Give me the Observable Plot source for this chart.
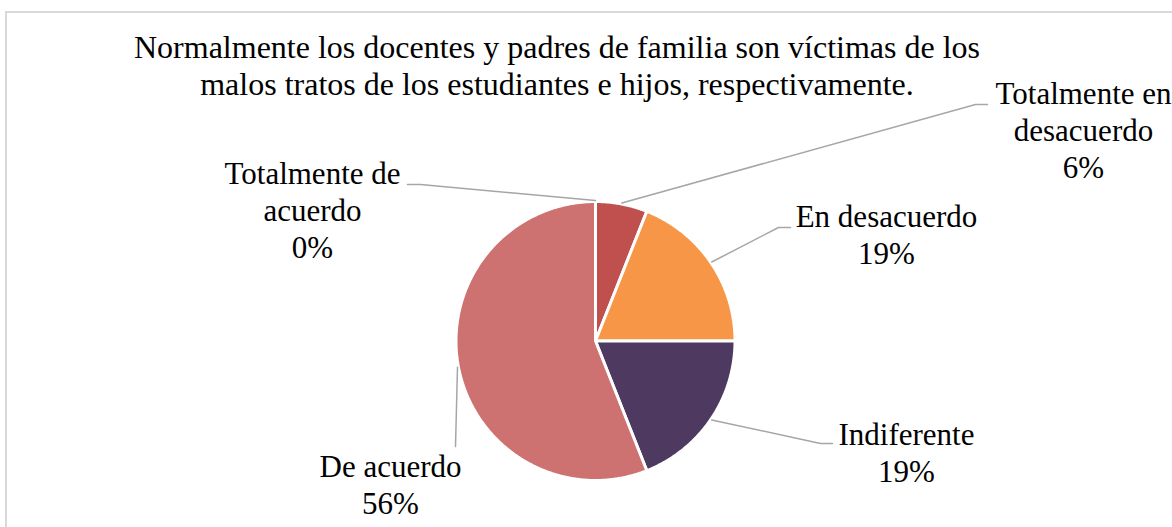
<!DOCTYPE html>
<html>
<head>
<meta charset="utf-8">
<script src="https://cdn.jsdelivr.net/npm/d3@7"></script>
<script src="https://cdn.jsdelivr.net/npm/@observablehq/plot@0.6"></script>
<style>
  body { margin: 0; background: #fff; }
  #wrap { position: relative; width: 1172px; height: 527px; overflow: hidden; font-family: "Liberation Serif", "Times New Roman", serif; }
  #chart { position: absolute; left: 0; top: 0; }
  #frame { position: absolute; left: 5px; top: 11px; width: 2000px; height: 1000px; border-top: 2px solid #d9d9d9; border-left: 2px solid #d9d9d9; }
  #title { position: absolute; left: 0; top: 29px; width: 1114px; text-align: center; font-size: 32px; line-height: 37px; color: #000; }
</style>
</head>
<body>
<div id="wrap">
  <div id="chart"></div>
  <div id="frame"></div>
  <div id="title">Normalmente los docentes y padres de familia son víctimas de los<br>malos tratos de los estudiantes e hijos, respectivamente.</div>
</div>
<script>
// ---- data ----
const categories = ["Totalmente en desacuerdo", "En desacuerdo", "Indiferente", "De acuerdo", "Totalmente de acuerdo"];
const values = [6, 19, 19, 56, 0];
const labelNames = ["Totalmente en\ndesacuerdo", "En desacuerdo", "Indiferente", "De acuerdo", "Totalmente de\nacuerdo"];
const percentLabels = ["6%", "19%", "19%", "56%", "0%"];
const sliceColors = ["#C0504D", "#F79646", "#4E3A61", "#CD7270", "#9BBB59"];

// ---- layout (positions only) ----
const W = 1172, H = 527;
const cx = 595, cy = 340.5, r = 139.5;
const labelPos = [[1083, 177], [886, 263], [906, 481], [390, 513], [312, 257]];
const leaderBends = [
  [[975, 104], [987, 104]],
  [[778, 227], [790, 227]],
  [[820, 443], [832, 443]],
  [[455, 446]],
  [[420, 184], [407, 184]]
];

const rows = categories.map((c, i) => ({category: c, value: values[i]}));
const arcs = d3.pie().sort(null).value(d => d.value)(rows);

const slicePts = [];
arcs.forEach(a => {
  const span = a.endAngle - a.startAngle;
  if (span <= 0) return;
  const c = a.data.category;
  const n = Math.max(2, Math.ceil(span / (Math.PI / 360)));
  slicePts.push({category: c, x: cx, y: cy});
  for (let k = 0; k <= n; k++) {
    const t = a.startAngle + span * k / n;
    slicePts.push({category: c, x: cx + r * Math.sin(t), y: cy - r * Math.cos(t)});
  }
  slicePts.push({category: c, x: cx, y: cy});
});

const leaderPts = [];
arcs.forEach((a, i) => {
  const c = a.data.category;
  const m = (a.startAngle + a.endAngle) / 2;
  leaderPts.push({category: c, x: cx + (r + 1) * Math.sin(m), y: cy - (r + 1) * Math.cos(m)});
  leaderBends[i].forEach(([x, y]) => leaderPts.push({category: c, x, y}));
});

const labels = categories.map((c, i) => ({
  category: c,
  x: labelPos[i][0],
  y: labelPos[i][1],
  text: labelNames[i] + "\n" + percentLabels[i]
}));

const chart = Plot.plot({
  width: W,
  height: H,
  margin: 0,
  style: {background: "transparent", overflow: "visible"},
  x: {domain: [0, W], range: [0, W], axis: null},
  y: {domain: [0, H], range: [0, H], axis: null},
  color: {type: "ordinal", domain: categories, range: sliceColors},
  marks: [
    Plot.line(slicePts, {x: "x", y: "y", z: "category", fill: "category", stroke: "white", strokeWidth: 3, strokeLinejoin: "round"}),
    Plot.line(leaderPts, {x: "x", y: "y", z: "category", stroke: "#a6a6a6", strokeWidth: 1.5}),
    Plot.text(labels, {x: "x", y: "y", text: "text", fontSize: 31, fontFamily: "Liberation Serif", fill: "#000", textAnchor: "middle", lineAnchor: "bottom", lineHeight: 37 / 31})
  ]
});
document.getElementById("chart").appendChild(chart);
</script>
</body>
</html>
